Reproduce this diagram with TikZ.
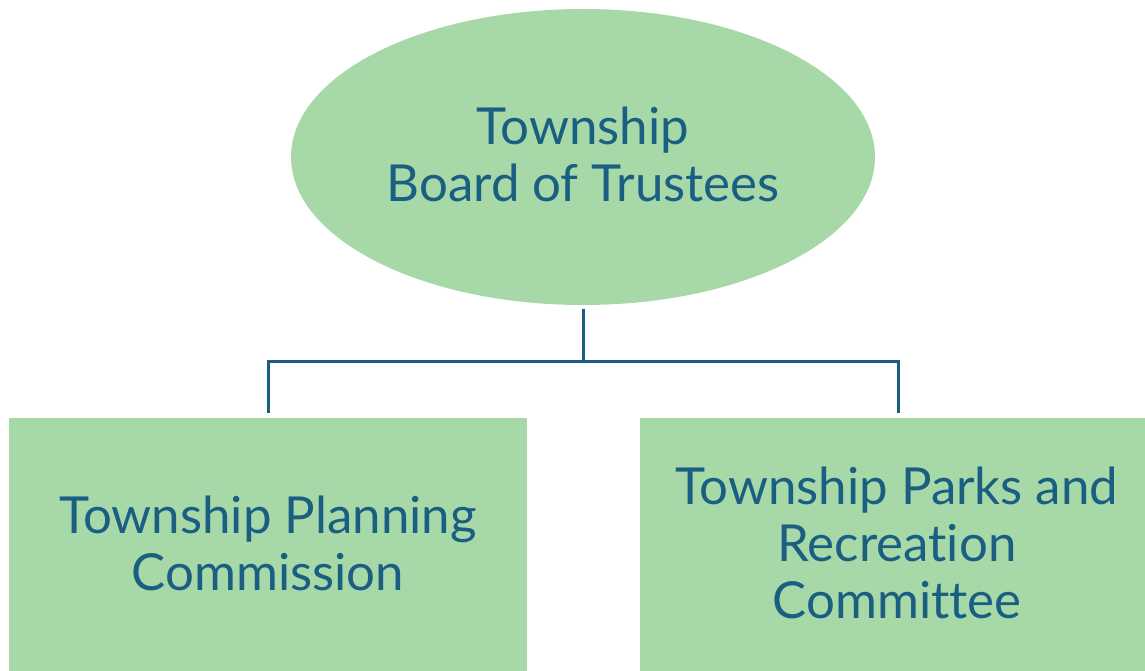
\documentclass[tikz,border=0pt]{standalone}
\usepackage{fontspec}
\setmainfont{Lato}[Ligatures=NoCommon]
\usetikzlibrary{shapes.geometric}
\definecolor{boxgreen}{HTML}{A7D9A8}
\definecolor{inkblue}{HTML}{1A5E82}
\begin{document}
\begin{tikzpicture}[x=1pt,y=-1pt,
  orgtext/.style={text=inkblue,font=\fontsize{51}{57}\selectfont,align=center},
  link/.style={draw=inkblue,line width=3pt}]
\useasboundingbox (0,0) rectangle (1145,671);
\node[ellipse,fill=boxgreen,minimum width=584pt,minimum height=296pt,inner sep=0pt] (board) at (583,157) {};
\node[orgtext] (boardtxt) at (583,154) {Township\\Board of Trustees};
\fill[boxgreen] (9,418) rectangle (527,671);
\node[inner sep=0pt] (plan) at (268,418) {};
\fill[boxgreen] (640,418) rectangle (1145,671);
\node[inner sep=0pt] (parks) at (898,418) {};
\node[orgtext] (plantxt) at (268,543) {Township Planning\\Commission};
\node[orgtext] (parkstxt) at (897,543) {Township Parks and\\Recreation\\Committee};
\coordinate (top) at (583,309);
\coordinate (mid) at (583,361);
\coordinate (lend) at (268,413);
\coordinate (rend) at (898,413);
\draw[link] (top) -- (mid);
\draw[link] (lend) |- (mid) -| (rend);
\end{tikzpicture}
\end{document}
